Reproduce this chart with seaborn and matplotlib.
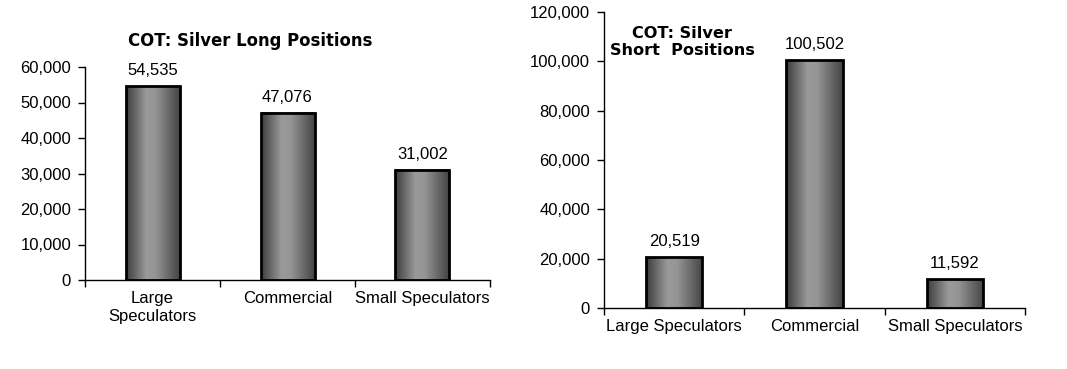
import numpy as np
import pandas as pd
import matplotlib
matplotlib.use("Agg")
import matplotlib.pyplot as plt
import seaborn as sns
from matplotlib.colors import LinearSegmentedColormap

categories_long = ["Large\nSpeculators", "Commercial", "Small Speculators"]
values_long = [54535, 47076, 31002]
categories_short = ["Large Speculators", "Commercial", "Small Speculators"]
values_short = [20519, 100502, 11592]
title_long = "COT: Silver Long Positions"
title_short = "COT: Silver\nShort  Positions"

sns.set_theme(style="white")
plt.rcParams["font.family"] = ["Liberation Sans", "DejaVu Sans"]

fig = plt.figure(figsize=(10.67, 3.69), dpi=100)
ax1 = fig.add_axes([85/1067, 1-280/369, 405/1067, 213/369])
ax2 = fig.add_axes([604/1067, 1-308/369, 421/1067, 296/369])

cmap = LinearSegmentedColormap.from_list(
    "bargrad", [(0.0, "#3c3c3c"), (0.38, "#9a9a9a"), (0.55, "#959595"), (1.0, "#444444")])
grad = np.linspace(0, 1, 256).reshape(1, -1)

FS = 12


def panel(ax, cats, vals, ymax, ystep):
    df = pd.DataFrame({"cat": cats, "val": vals})
    sns.barplot(data=df, x="cat", y="val", ax=ax, width=0.4, color="#808080",
                edgecolor="black", linewidth=2.0, zorder=3)
    for p in ax.patches:
        x0, y0 = p.get_x(), p.get_y()
        w, h = p.get_width(), p.get_height()
        ax.imshow(grad, extent=(x0, x0 + w, y0, y0 + h), aspect="auto",
                  cmap=cmap, zorder=2, interpolation="bilinear")
        p.set_facecolor("none")
    ax.set_xlim(-0.5, len(cats) - 0.5)
    ax.set_ylim(0, ymax)
    ax.set_yticks(np.arange(0, ymax + 1, ystep))
    ax.yaxis.set_major_formatter(matplotlib.ticker.FuncFormatter(lambda v, p: f"{int(v):,}"))
    ax.set_xticks(np.arange(-0.5, len(cats), 1.0))
    ax.set_xticklabels([])
    ax.set_xticks(np.arange(len(cats)), minor=True)
    ax.set_xticklabels(cats, minor=True, linespacing=1.25)
    ax.tick_params(axis="x", which="major", direction="out", length=5, width=1, color="black", bottom=True)
    ax.tick_params(axis="x", which="minor", length=0, labelsize=FS, pad=8, colors="black", bottom=True)
    ax.tick_params(axis="y", direction="out", length=5, width=1, color="black", labelsize=FS,
                   labelcolor="black", left=True, pad=5)
    ax.set_xlabel("")
    ax.set_ylabel("")
    for s in ["top", "right"]:
        ax.spines[s].set_visible(False)
    for s in ["left", "bottom"]:
        ax.spines[s].set_color("black")
        ax.spines[s].set_linewidth(1)
    for i, v in enumerate(vals):
        ax.annotate(f"{v:,}", (i, v), xytext=(0, 6), textcoords="offset points",
                    ha="center", va="bottom", fontsize=FS, color="black")
    ax.set_facecolor("white")


panel(ax1, categories_long, values_long, 60000, 10000)
panel(ax2, categories_short, values_short, 120000, 20000)

fig.text(250/1067, 1-41/369, title_long, ha="center", va="center", fontsize=11.9,
         fontweight="bold", family="DejaVu Sans", color="black")
fig.text(682/1067, 1-42/369, title_short, ha="center", va="center", fontsize=11.6,
         fontweight="bold", family="DejaVu Sans", color="black", linespacing=1.15)

fig.savefig("out.png", dpi=100, facecolor="white")
